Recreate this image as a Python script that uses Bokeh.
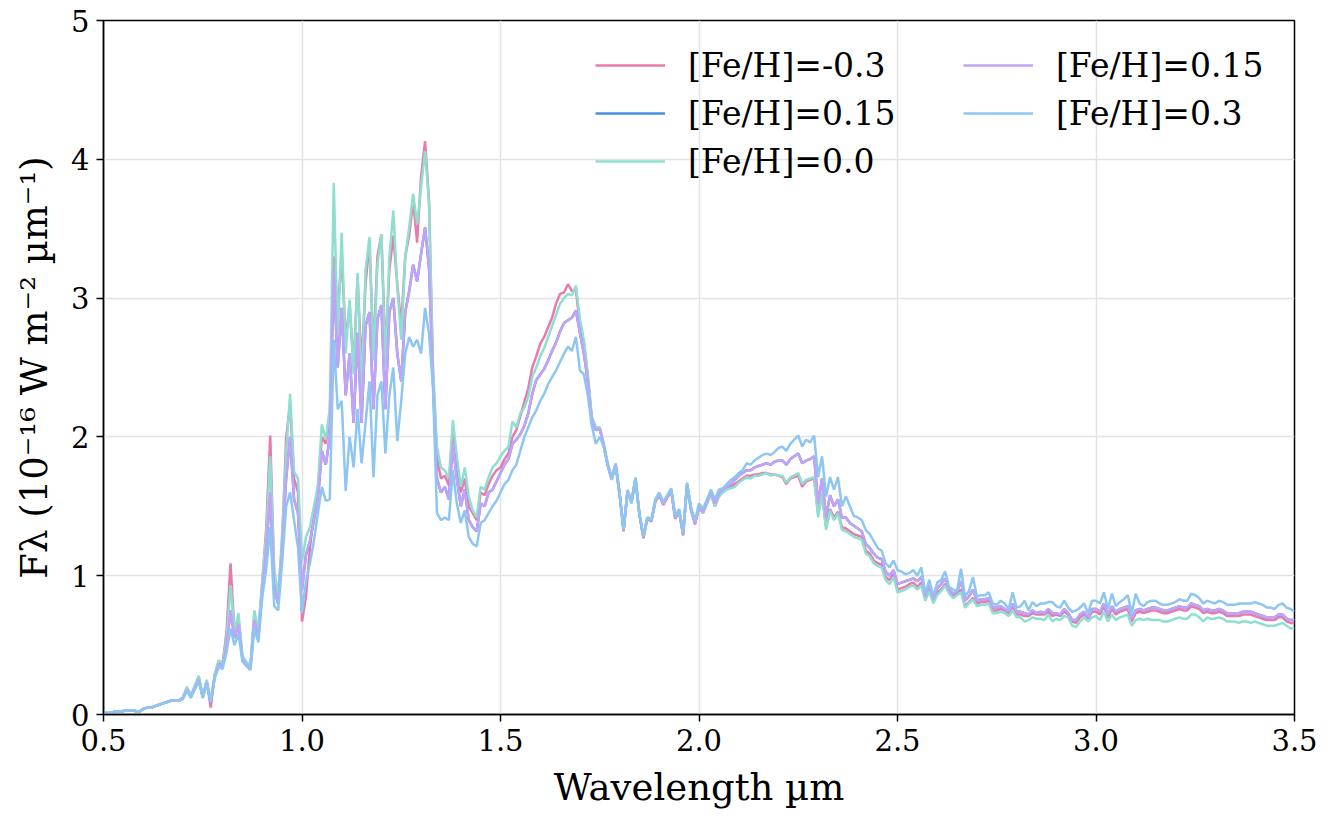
import numpy as np
from bokeh.plotting import figure
from bokeh.models import FixedTicker, PrintfTickFormatter, Legend, LegendItem, ColumnDataSource
from bokeh.embed import file_html
from bokeh.resources import INLINE

# wavelength grid (µm), 0.01 µm sampling
wavelength = np.round(np.arange(0.50, 3.5001, 0.01), 2)

flux_m03 = [
    0.01, 0.01, 0.015, 0.02, 0.02, 0.025, 0.03, 0.03, 0.025, 0.02,
    0.04, 0.05, 0.05, 0.06, 0.07, 0.08, 0.09, 0.10, 0.10, 0.10,
    0.12, 0.19, 0.13, 0.20, 0.27, 0.12, 0.24, 0.05, 0.28, 0.38,
    0.36, 0.60, 1.09, 0.58, 0.70, 0.40, 0.37, 0.34, 0.72, 0.58,
    0.95, 1.35, 2.01, 1.00, 0.80, 1.25, 1.99, 2.24, 1.70, 1.60,
    0.67, 0.85, 1.20, 1.45, 1.60, 2.00, 1.95, 2.15, 3.30, 2.90,
    3.30, 2.70, 2.95, 2.50, 3.15, 2.50, 3.10, 3.40, 2.60, 3.30,
    3.46, 2.60, 3.20, 3.45, 3.10, 2.80, 3.30, 3.45, 3.70, 3.40,
    3.88, 4.13, 3.70, 2.45, 1.85, 1.70, 1.72, 1.65, 2.05, 1.80,
    1.60, 1.70, 1.50, 1.45, 1.40, 1.60, 1.58, 1.66, 1.72, 1.76,
    1.78, 1.84, 1.88, 2.00, 2.05, 2.15, 2.25, 2.35, 2.50, 2.58,
    2.67, 2.72, 2.79, 2.86, 2.96, 3.03, 3.04, 3.10, 3.05, 3.06,
    2.80, 2.68, 2.43, 2.13, 2.06, 2.06, 1.94, 1.80, 1.70, 1.80,
    1.59, 1.32, 1.61, 1.53, 1.70, 1.44, 1.27, 1.41, 1.39, 1.53,
    1.58, 1.51, 1.56, 1.61, 1.41, 1.46, 1.29, 1.65, 1.47, 1.37,
    1.49, 1.45, 1.52, 1.59, 1.50, 1.57, 1.61, 1.63, 1.64, 1.66,
    1.68, 1.70, 1.72, 1.72, 1.73, 1.73, 1.74, 1.74, 1.73, 1.73,
    1.72, 1.71, 1.66, 1.70, 1.71, 1.72, 1.64, 1.68, 1.69, 1.70,
    1.45, 1.58, 1.35, 1.48, 1.42, 1.46, 1.35, 1.34, 1.32, 1.30,
    1.29, 1.28, 1.18, 1.16, 1.11, 1.09, 1.08, 0.99, 0.97, 1.01,
    0.90, 0.91, 0.92, 0.94, 0.95, 0.92, 0.95, 0.84, 0.90, 0.82,
    0.88, 0.90, 0.94, 0.88, 0.85, 0.87, 0.90, 0.78, 0.81, 0.84,
    0.80, 0.81, 0.81, 0.82, 0.75, 0.75, 0.76, 0.75, 0.73, 0.78,
    0.72, 0.72, 0.71, 0.71, 0.73, 0.72, 0.72, 0.72, 0.74, 0.71,
    0.72, 0.71, 0.74, 0.72, 0.67, 0.66, 0.70, 0.72, 0.69, 0.74,
    0.74, 0.72, 0.78, 0.70, 0.76, 0.72, 0.74, 0.75, 0.76, 0.67,
    0.73, 0.74, 0.73, 0.74, 0.75, 0.75, 0.74, 0.73, 0.73, 0.74,
    0.75, 0.76, 0.75, 0.75, 0.78, 0.77, 0.76, 0.73, 0.74, 0.73,
    0.73, 0.74, 0.73, 0.71, 0.71, 0.71, 0.71, 0.72, 0.72, 0.72,
    0.71, 0.70, 0.69, 0.68, 0.68, 0.68, 0.70, 0.70, 0.67, 0.66,
    0.66,
]

flux_00 = [
    0.01, 0.01, 0.015, 0.02, 0.02, 0.025, 0.03, 0.03, 0.025, 0.02,
    0.04, 0.05, 0.05, 0.06, 0.07, 0.08, 0.09, 0.10, 0.10, 0.10,
    0.12, 0.20, 0.14, 0.21, 0.28, 0.14, 0.25, 0.10, 0.29, 0.39,
    0.37, 0.55, 0.93, 0.60, 0.73, 0.42, 0.38, 0.35, 0.75, 0.60,
    0.97, 1.30, 1.86, 1.05, 0.85, 1.30, 1.88, 2.31, 1.75, 1.70,
    1.10, 1.28, 1.35, 1.50, 1.65, 2.09, 1.98, 2.21, 3.83, 2.72,
    3.47, 2.60, 2.99, 2.45, 3.18, 2.31, 3.20, 3.44, 2.55, 3.24,
    3.46, 2.50, 3.29, 3.63, 3.08, 2.70, 3.29, 3.51, 3.75, 3.53,
    3.80, 4.06, 3.68, 2.50, 1.93, 1.78, 1.76, 1.70, 2.12, 1.86,
    1.64, 1.78, 1.57, 1.47, 1.42, 1.64, 1.62, 1.71, 1.78, 1.81,
    1.86, 1.90, 1.93, 2.11, 2.07, 2.17, 2.21, 2.29, 2.43, 2.50,
    2.58, 2.64, 2.72, 2.80, 2.88, 2.96, 3.00, 3.03, 3.02, 3.09,
    2.85, 2.70, 2.45, 2.15, 2.07, 2.07, 1.95, 1.81, 1.71, 1.81,
    1.60, 1.33, 1.62, 1.54, 1.71, 1.45, 1.28, 1.42, 1.40, 1.54,
    1.59, 1.52, 1.57, 1.62, 1.42, 1.47, 1.30, 1.66, 1.48, 1.38,
    1.50, 1.45, 1.52, 1.59, 1.50, 1.57, 1.60, 1.62, 1.63, 1.64,
    1.67, 1.69, 1.71, 1.70, 1.72, 1.72, 1.73, 1.74, 1.72, 1.73,
    1.72, 1.72, 1.67, 1.71, 1.72, 1.74, 1.66, 1.69, 1.70, 1.71,
    1.42, 1.60, 1.33, 1.47, 1.40, 1.45, 1.33, 1.32, 1.30, 1.28,
    1.27, 1.26, 1.16, 1.14, 1.09, 1.07, 1.06, 0.97, 0.94, 0.99,
    0.88, 0.89, 0.90, 0.92, 0.93, 0.90, 0.93, 0.82, 0.89, 0.80,
    0.86, 0.89, 0.93, 0.87, 0.84, 0.86, 0.88, 0.77, 0.80, 0.83,
    0.78, 0.79, 0.79, 0.80, 0.73, 0.73, 0.74, 0.73, 0.71, 0.75,
    0.70, 0.70, 0.67, 0.68, 0.70, 0.69, 0.69, 0.68, 0.72, 0.67,
    0.69, 0.68, 0.71, 0.70, 0.64, 0.63, 0.67, 0.70, 0.67, 0.70,
    0.71, 0.68, 0.74, 0.67, 0.72, 0.68, 0.70, 0.71, 0.72, 0.64,
    0.68, 0.69, 0.68, 0.69, 0.68, 0.68, 0.68, 0.67, 0.67, 0.68,
    0.69, 0.70, 0.69, 0.69, 0.72, 0.72, 0.70, 0.67, 0.70, 0.69,
    0.69, 0.70, 0.69, 0.67, 0.67, 0.67, 0.66, 0.67, 0.67, 0.66,
    0.67, 0.66, 0.65, 0.64, 0.64, 0.64, 0.65, 0.66, 0.64, 0.62,
    0.62,
]

flux_p015 = [
    0.01, 0.01, 0.015, 0.02, 0.02, 0.025, 0.03, 0.03, 0.025, 0.02,
    0.04, 0.05, 0.05, 0.06, 0.07, 0.08, 0.09, 0.10, 0.10, 0.10,
    0.12, 0.18, 0.13, 0.19, 0.25, 0.13, 0.23, 0.09, 0.27, 0.36,
    0.35, 0.50, 0.75, 0.55, 0.65, 0.40, 0.36, 0.33, 0.68, 0.55,
    0.90, 1.20, 1.60, 0.90, 0.80, 1.20, 1.70, 2.00, 1.55, 1.45,
    0.90, 1.15, 1.25, 1.40, 1.55, 1.90, 1.80, 2.00, 3.20, 2.50,
    2.93, 2.30, 2.60, 2.10, 2.75, 2.10, 2.80, 2.90, 2.20, 2.85,
    2.95, 2.20, 2.90, 3.00, 2.60, 2.40, 2.90, 3.05, 3.24, 3.12,
    3.32, 3.51, 3.22, 2.40, 1.70, 1.60, 1.64, 1.55, 1.95, 1.70,
    1.50, 1.62, 1.40, 1.35, 1.32, 1.52, 1.50, 1.60, 1.62, 1.68,
    1.74, 1.80, 1.84, 1.95, 1.98, 2.02, 2.08, 2.17, 2.31, 2.41,
    2.45, 2.49, 2.55, 2.62, 2.68, 2.76, 2.82, 2.84, 2.86, 2.91,
    2.75, 2.60, 2.40, 2.12, 2.05, 2.06, 1.94, 1.80, 1.70, 1.80,
    1.59, 1.33, 1.61, 1.53, 1.70, 1.44, 1.28, 1.42, 1.40, 1.54,
    1.59, 1.52, 1.57, 1.62, 1.42, 1.47, 1.30, 1.66, 1.48, 1.38,
    1.50, 1.46, 1.53, 1.60, 1.52, 1.59, 1.62, 1.64, 1.66, 1.69,
    1.72, 1.74, 1.76, 1.76, 1.78, 1.79, 1.80, 1.81, 1.80, 1.82,
    1.83, 1.83, 1.80, 1.84, 1.86, 1.88, 1.81, 1.83, 1.84, 1.86,
    1.52, 1.70, 1.42, 1.58, 1.50, 1.55, 1.42, 1.42, 1.38, 1.36,
    1.34, 1.32, 1.23, 1.20, 1.16, 1.13, 1.12, 1.03, 1.00, 1.04,
    0.94, 0.95, 0.96, 0.97, 0.98, 0.96, 0.99, 0.85, 0.93, 0.83,
    0.91, 0.94, 0.98, 0.90, 0.87, 0.89, 0.96, 0.82, 0.85, 0.90,
    0.82, 0.83, 0.83, 0.84, 0.77, 0.77, 0.78, 0.76, 0.74, 0.80,
    0.74, 0.74, 0.73, 0.72, 0.75, 0.73, 0.74, 0.73, 0.76, 0.73,
    0.73, 0.72, 0.76, 0.73, 0.68, 0.68, 0.72, 0.74, 0.70, 0.76,
    0.76, 0.74, 0.80, 0.72, 0.78, 0.74, 0.76, 0.77, 0.78, 0.69,
    0.75, 0.76, 0.75, 0.76, 0.77, 0.77, 0.76, 0.75, 0.75, 0.76,
    0.77, 0.78, 0.77, 0.77, 0.80, 0.79, 0.78, 0.75, 0.76, 0.75,
    0.75, 0.76, 0.75, 0.73, 0.73, 0.73, 0.73, 0.74, 0.74, 0.74,
    0.73, 0.72, 0.71, 0.70, 0.70, 0.70, 0.72, 0.72, 0.69, 0.68,
    0.68,
]

flux_p03 = [
    0.01, 0.01, 0.015, 0.02, 0.02, 0.025, 0.03, 0.03, 0.025, 0.02,
    0.04, 0.05, 0.05, 0.06, 0.07, 0.08, 0.09, 0.10, 0.10, 0.10,
    0.11, 0.17, 0.12, 0.18, 0.24, 0.12, 0.22, 0.09, 0.26, 0.34,
    0.33, 0.45, 0.62, 0.50, 0.58, 0.38, 0.35, 0.32, 0.62, 0.52,
    0.85, 1.05, 1.35, 0.78, 0.75, 1.10, 1.50, 1.60, 1.40, 1.20,
    0.73, 0.96, 1.09, 1.25, 1.45, 1.64, 1.54, 1.55, 2.70, 2.20,
    2.26, 1.61, 2.00, 1.78, 2.20, 1.81, 2.10, 2.40, 1.71, 2.30,
    2.40, 1.88, 2.30, 2.50, 1.97, 2.26, 2.60, 2.72, 2.65, 2.70,
    2.60, 2.93, 2.74, 2.35, 1.45, 1.40, 1.42, 1.40, 1.76, 1.52,
    1.38, 1.47, 1.28, 1.23, 1.21, 1.38, 1.40, 1.45, 1.50, 1.54,
    1.60, 1.66, 1.69, 1.76, 1.80, 1.90, 2.00, 2.07, 2.14, 2.19,
    2.26, 2.31, 2.38, 2.43, 2.48, 2.54, 2.60, 2.65, 2.62, 2.72,
    2.48, 2.45, 2.30, 2.08, 1.95, 2.00, 1.93, 1.79, 1.69, 1.79,
    1.58, 1.33, 1.60, 1.52, 1.69, 1.44, 1.28, 1.42, 1.40, 1.55,
    1.60, 1.53, 1.58, 1.63, 1.43, 1.48, 1.31, 1.67, 1.49, 1.40,
    1.52, 1.48, 1.55, 1.62, 1.55, 1.62, 1.63, 1.66, 1.69, 1.71,
    1.74, 1.76, 1.81, 1.80, 1.83, 1.85, 1.87, 1.88, 1.87, 1.89,
    1.92, 1.93, 1.90, 1.95, 1.98, 2.01, 1.93, 1.98, 1.96, 2.01,
    1.71, 1.86, 1.57, 1.71, 1.62, 1.71, 1.50, 1.57, 1.50, 1.43,
    1.42, 1.40, 1.33, 1.30, 1.25, 1.20, 1.18, 1.09, 1.06, 1.11,
    1.04, 1.03, 1.01, 1.02, 1.04, 1.00, 1.06, 0.87, 0.97, 0.85,
    0.95, 0.97, 1.03, 0.92, 0.90, 0.89, 1.05, 0.85, 0.89, 0.99,
    0.85, 0.86, 0.86, 0.88, 0.80, 0.79, 0.82, 0.80, 0.76, 0.88,
    0.77, 0.78, 0.82, 0.75, 0.81, 0.78, 0.80, 0.80, 0.81, 0.81,
    0.78, 0.77, 0.82, 0.77, 0.74, 0.75, 0.77, 0.80, 0.73, 0.82,
    0.82, 0.80, 0.88, 0.76, 0.87, 0.78, 0.81, 0.83, 0.86, 0.73,
    0.87, 0.80, 0.78, 0.81, 0.82, 0.82, 0.80, 0.79, 0.79, 0.80,
    0.81, 0.83, 0.82, 0.82, 0.87, 0.86, 0.84, 0.80, 0.82, 0.81,
    0.80, 0.82, 0.81, 0.79, 0.79, 0.79, 0.80, 0.80, 0.80, 0.80,
    0.81, 0.80, 0.79, 0.77, 0.77, 0.76, 0.79, 0.80, 0.77, 0.76,
    0.74,
]

series_labels = ["[Fe/H]=-0.3", "[Fe/H]=0.15", "[Fe/H]=0.0", "[Fe/H]=0.15", "[Fe/H]=0.3"]
series_colors = ["#e97aad", "#4a8fe0", "#8edfd0", "#c3a2f7", "#8ec6f2"]
series_values = [flux_m03, flux_p015, flux_00, flux_p015, flux_p03]

FONT = "DejaVu Serif"

p = figure(
    frame_width=1191, frame_height=694,
    x_range=(0.5, 3.5), y_range=(0, 5),
    output_backend="svg", toolbar_location=None,
    min_border_left=103, min_border_top=20, min_border_right=27, min_border_bottom=95,
    background_fill_color="white", border_fill_color="white",
)

renderers = []
for vals, col in zip(series_values, series_colors):
    src = ColumnDataSource(data=dict(x=wavelength, y=vals))
    r = p.line("x", "y", source=src, line_color=col, line_width=2.5)
    renderers.append(r)

# axes
p.xaxis.ticker = FixedTicker(ticks=[0.5, 1.0, 1.5, 2.0, 2.5, 3.0, 3.5])
p.yaxis.ticker = FixedTicker(ticks=[0, 1, 2, 3, 4, 5])
p.xaxis.formatter = PrintfTickFormatter(format="%.1f")
p.yaxis.formatter = PrintfTickFormatter(format="%d")
p.xaxis.axis_label = "Wavelength µm"
p.yaxis.axis_label = "F\u03bb (10\u207b\u00b9\u2076 W m\u207b\u00b2 \u00b5m\u207b\u00b9)"
for ax in (p.xaxis, p.yaxis):
    ax.major_label_text_font = FONT
    ax.major_label_text_font_size = "29px"
    ax.major_label_text_color = "black"
    ax.axis_label_text_font = FONT
    ax.axis_label_text_font_size = "37px"
    ax.axis_label_text_font_style = "normal"
    ax.axis_label_text_color = "black"
    ax.axis_line_color = "black"
    ax.axis_line_width = 1.5
    ax.major_tick_line_color = "black"
    ax.major_tick_line_width = 1.5
    ax.major_tick_out = 7
    ax.major_tick_in = 0
    ax.minor_tick_line_color = None
    ax.major_label_standoff = 7
p.xaxis.axis_label_standoff = 12
p.yaxis.axis_label_standoff = 12

p.outline_line_color = "black"
p.outline_line_width = 1.5
p.outline_line_alpha = 1.0

p.xgrid.grid_line_color = "#e3e3e3"
p.ygrid.grid_line_color = "#e3e3e3"
p.xgrid.grid_line_width = 1.5
p.ygrid.grid_line_width = 1.5

def make_legend(idx, loc):
    items = [LegendItem(label=series_labels[i], renderers=[renderers[i]]) for i in idx]
    leg = Legend(items=items, location=loc, orientation="vertical",
                 label_text_font=FONT, label_text_font_size="33px",
                 label_text_color="black",
                 glyph_width=70, glyph_height=40, label_height=40,
                 label_standoff=23, spacing=8, padding=0, margin=0,
                 border_line_alpha=0, background_fill_alpha=0)
    return leg

p.add_layout(make_legend([0, 1, 2], (492, 533)), "center")
p.add_layout(make_legend([3, 4], (860, 581)), "center")

open("out.html", "w").write(file_html(p, INLINE))
